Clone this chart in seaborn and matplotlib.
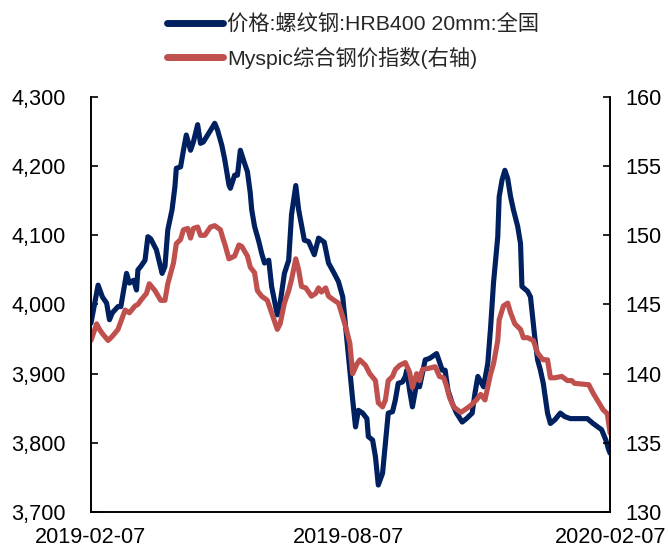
import pandas as pd
import numpy as np
import matplotlib
matplotlib.use("Agg")
import matplotlib.pyplot as plt
import matplotlib.dates as mdates
import matplotlib.ticker as mticker
import seaborn as sns

start = pd.Timestamp("2019-02-07")

# rebar price HRB400 20mm, national (left axis), days since 2019-02-07
rebar_day = [0, 5, 8, 11, 13, 15, 19, 21, 25, 27, 30, 32, 33, 35, 38, 40, 42, 46,
             50, 52, 54, 57, 59, 60, 63, 65, 67, 70, 72, 75, 77, 79, 82, 85, 87, 89,
             92, 94, 97, 98, 101, 103, 105, 108, 110, 112, 113, 115, 118, 120, 122,
             125, 127, 131, 133, 136, 139, 141, 144, 146, 150, 153, 157, 160, 164,
             167, 171, 174, 177, 179, 181, 184, 186, 188, 191, 194, 195, 198, 200,
             202, 205, 207, 209, 212, 214, 216, 219, 221, 222, 224, 226, 229, 231,
             235, 238, 243, 247, 249, 251, 254, 257, 261, 264, 268, 270, 272, 276,
             279, 281, 283, 286, 287, 289, 291, 293, 295, 297, 300, 302, 303, 307,
             309, 310, 312, 314, 316, 318, 321, 323, 326, 330, 333, 337, 349, 353,
             359, 362, 364, 365]
rebar_price = [3973, 4028, 4011, 4002, 3978, 3988, 3997, 3997, 4045, 4031, 4035, 4021,
               4050, 4055, 4064, 4098, 4095, 4079, 4045, 4055, 4108, 4137, 4170, 4197,
               4199, 4223, 4245, 4223, 4235, 4260, 4233, 4235, 4245, 4255, 4262, 4252,
               4230, 4210, 4173, 4168, 4187, 4187, 4223, 4204, 4192, 4161, 4137, 4113,
               4091, 4074, 4060, 4064, 4026, 3985, 4002, 4045, 4064, 4130, 4172, 4137,
               4093, 4091, 4072, 4096, 4090, 4060, 4045, 4033, 4011, 3968, 3925, 3862,
               3823, 3847, 3843, 3835, 3809, 3804, 3780, 3739, 3756, 3799, 3843, 3845,
               3862, 3886, 3888, 3896, 3905, 3876, 3852, 3886, 3881, 3920, 3922, 3929,
               3905, 3905, 3876, 3857, 3843, 3830, 3835, 3843, 3872, 3896, 3881, 3915,
               3968, 4031, 4098, 4156, 4180, 4194, 4182, 4156, 4137, 4113, 4088, 4026,
               4019, 4011, 3992, 3953, 3920, 3905, 3886, 3843, 3828, 3833, 3843, 3838,
               3835, 3835, 3828, 3819, 3804, 3790, 3785]

# Myspic composite steel price index (right axis)
index_day = [0, 4, 6, 8, 12, 15, 19, 24, 27, 31, 33, 35, 39, 41, 45, 49, 52, 54, 58,
             60, 63, 65, 68, 70, 72, 75, 77, 80, 84, 87, 91, 93, 94, 97, 101, 104,
             106, 110, 112, 115, 117, 120, 124, 127, 131, 133, 136, 139, 141, 144,
             146, 148, 151, 153, 155, 158, 160, 162, 165, 167, 171, 174, 177, 179,
             182, 184, 187, 189, 193, 196, 200, 202, 205, 207, 209, 212, 214, 217,
             221, 224, 226, 229, 231, 233, 238, 242, 245, 248, 250, 252, 255, 260,
             263, 267, 271, 274, 277, 281, 283, 286, 287, 290, 293, 295, 298, 302,
             304, 307, 311, 314, 317, 318, 321, 323, 326, 331, 335, 338, 340, 350,
             353, 360, 363, 364, 365]
index_value = [142.4, 143.6, 143.2, 142.9, 142.4, 142.7, 143.2, 144.6, 144.4, 144.9,
               145.0, 145.3, 145.8, 146.5, 146.0, 145.3, 145.3, 146.5, 148.0, 149.4,
               149.7, 150.4, 150.5, 149.8, 150.5, 150.6, 150.0, 150.0, 150.6, 150.7,
               150.4, 149.7, 149.4, 148.3, 148.5, 149.3, 149.2, 148.5, 147.7, 147.3,
               146.0, 145.6, 145.3, 144.4, 143.2, 143.6, 145.1, 146.0, 146.8, 148.3,
               147.5, 146.3, 146.2, 145.9, 145.6, 145.8, 146.2, 145.9, 146.2, 145.6,
               145.3, 145.1, 144.1, 143.4, 142.2, 140.0, 140.7, 141.0, 140.6, 140.0,
               139.5, 137.9, 137.6, 138.1, 139.5, 139.8, 140.3, 140.6, 140.8, 140.1,
               139.0, 140.0, 139.5, 140.3, 140.4, 140.5, 139.8, 139.7, 139.1, 138.3,
               137.6, 137.2, 137.4, 137.7, 138.1, 138.5, 138.1, 140.0, 140.7, 142.4,
               143.9, 144.9, 145.1, 144.4, 143.6, 143.2, 142.6, 142.6, 142.4, 141.5,
               141.1, 141.0, 141.0, 139.7, 139.7, 139.8, 139.5, 139.5, 139.3, 139.2,
               138.6, 137.4, 137.1, 136.4, 135.7]

labels = ["价格:螺纹钢:HRB400 20mm:全国", "Myspic综合钢价指数(右轴)"]
tick_dates = ["2019-02-07", "2019-08-07", "2020-02-07"]

rebar = pd.DataFrame({"date": start + pd.to_timedelta(rebar_day, unit="D"),
                      "value": rebar_price})
index = pd.DataFrame({"date": start + pd.to_timedelta(index_day, unit="D"),
                      "value": index_value})

sns.set_style("white")
plt.rcParams["font.family"] = ["Liberation Sans", "Noto Sans CJK SC", "DejaVu Sans"]

fig = plt.figure(figsize=(6.69, 5.48), dpi=100)
ax = fig.add_axes([0.136, 0.0657, 0.776, 0.7573])
ax2 = ax.twinx()

sns.lineplot(data=rebar, x="date", y="value", ax=ax, color="#002060", linewidth=3.7,
             label=labels[0], legend=False)
sns.lineplot(data=index, x="date", y="value", ax=ax2, color="#C0504D", linewidth=3.7,
             label=labels[1], legend=False)

ax.set_xlim(pd.Timestamp(tick_dates[0]), pd.Timestamp(tick_dates[-1]))
ax.set_ylim(3700, 4300)
ax2.set_ylim(130, 160)
ax.set_yticks(np.arange(3700, 4301, 100))
ax2.set_yticks(np.arange(130, 161, 5))
ax.yaxis.set_major_formatter(mticker.FuncFormatter(lambda v, p: f"{v:,.0f}"))
ax.set_xticks([pd.Timestamp(d) for d in tick_dates])
ax.xaxis.set_major_formatter(mdates.DateFormatter("%Y-%m-%d"))
ax.set_xlabel("")
ax.set_ylabel("")
ax2.set_ylabel("")

for a in (ax, ax2):
    for s in a.spines.values():
        s.set_color("black")
        s.set_linewidth(1.2)
    a.spines["top"].set_visible(False)
    a.tick_params(direction="in", length=5, width=1.2, labelsize=15.6, colors="black")
ax.tick_params(axis="x", pad=11)
ax.tick_params(axis="y", pad=18)
ax2.tick_params(axis="y", pad=11)
ax.grid(False)
ax2.grid(False)

h1, l1 = ax.get_legend_handles_labels()
h2, l2 = ax2.get_legend_handles_labels()
leg = fig.legend(h1 + h2, l1 + l2, loc="upper center", bbox_to_anchor=(0.528, 1.01),
                 frameon=False, fontsize=15.3, handlelength=2.6, handletextpad=0.2,
                 labelspacing=0.6)
for line in leg.get_lines():
    line.set_linewidth(5)

fig.savefig("out.png", dpi=100)
